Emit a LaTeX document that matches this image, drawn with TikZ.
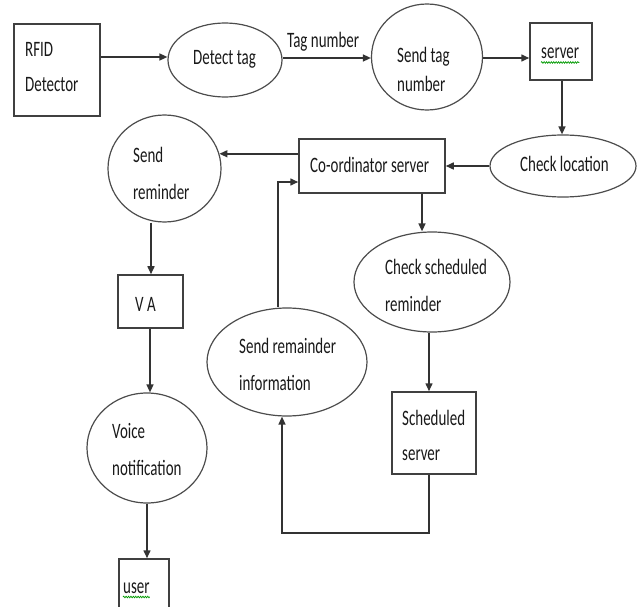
\documentclass[tikz,border=0pt]{standalone}
\usepackage{fontspec}
\setmainfont{Carlito}[FakeStretch=0.68]
\usetikzlibrary{shapes.geometric,arrows.meta,decorations.pathmorphing}
\begin{document}
\begin{tikzpicture}[x=1pt,y=-1pt,
  box/.style={rectangle, draw=black!75, line width=1.5pt, inner sep=0pt},
  oval/.style={ellipse, draw=black!70, line width=1.2pt, inner sep=0pt},
  arr/.style={draw=black!80, line width=1.5pt, -{Triangle[length=8pt,width=7pt]}},
  lbl/.style={anchor=base west, inner sep=0pt, text=black!90, font=\fontsize{22}{26}\selectfont},
  wavy/.style={draw=green!60!black, line width=0.7pt, decorate, decoration={snake, amplitude=0.8pt, segment length=2.4pt}}]
\useasboundingbox (0,0) rectangle (638,607);
\begin{scope}
\clip (0,0) rectangle (638,607);
% shapes
\node[box, minimum width=86pt, minimum height=92pt] (rfid) at (57,70) {};
\node[oval, minimum width=114pt, minimum height=74pt] (detect) at (225,60) {};
\node[oval, minimum width=111pt, minimum height=106pt] (sendtag) at (427,57) {};
\node[box, minimum width=62pt, minimum height=57pt] (server) at (561,51.5) {};
\node[oval, minimum width=146pt, minimum height=62pt] (checkloc) at (563,166) {};
\node[box, minimum width=146pt, minimum height=54pt] (coord) at (372,166) {};
\node[oval, minimum width=113pt, minimum height=107pt] (sendrem) at (164.5,168.5) {};
\node[box, minimum width=65pt, minimum height=53pt] (va) at (150.5,301.5) {};
\node[oval, minimum width=120pt, minimum height=110pt] (voice) at (147,448) {};
\node[box, minimum width=50pt, minimum height=62pt] (user) at (144,590) {};
\node[oval, minimum width=156pt, minimum height=100pt] (checksched) at (432,282) {};
\node[box, minimum width=84pt, minimum height=82pt] (schedsrv) at (434,433) {};
\node[oval, minimum width=160pt, minimum height=108pt] (sendinfo) at (287,362) {};
\end{scope}
% texts
\node[lbl] (t1) at (25,57) {RFID};
\node[lbl] (t2) at (25,92) {Detector};
\node[lbl] (t3) at (193,65) {Detect tag};
\node[lbl] (t4) at (287,48) {Tag number};
\node[lbl] (t5) at (397,63) {Send tag};
\node[lbl] (t6) at (397,92) {number};
\node[lbl] (t7) at (541,59) {server};
\node[lbl] (t8) at (520,172) {Check location};
\node[lbl] (t9) at (310,173) {Co-ordinator server};
\node[lbl] (t10) at (133,163) {Send};
\node[lbl] (t11) at (133,200) {reminder};
\node[lbl] (t12) at (135,311) {V A};
\node[lbl] (t13) at (385,275) {Check scheduled};
\node[lbl] (t14) at (385,312) {reminder};
\node[lbl] (t15) at (239,353) {Send remainder};
\node[lbl] (t16) at (239,390) {information};
\node[lbl] (t17) at (402,425) {Scheduled};
\node[lbl] (t18) at (402,460) {server};
\node[lbl] (t19) at (112,438) {Voice};
\node[lbl] (t20) at (112,475) {notification};
\node[lbl] (t21) at (123,593) {user};
% wavy underlines
\draw[wavy] ([yshift=-3.5pt]t7.base west) -- ([yshift=-3.5pt]t7.base east);
\draw[wavy] ([yshift=-4pt]t21.base west) -- ([yshift=-4pt]t21.base east);
% connectors
\coordinate (loop) at (282,533);
\coordinate (up) at (278,182);
\draw[arr] (rfid.east |- 0,57) -- (detect.west |- 0,57);
\draw[arr] (detect.east |- 0,58) -- (sendtag.west |- 0,58);
\draw[arr] (sendtag.east |- 0,58) -- (server.west |- 0,58);
\draw[arr] (server.south -| 562,0) -- (checkloc.north -| 562,0);
\draw[arr] (checkloc.west) -- (coord.east);
\draw[arr] (coord.west |- sendrem.15) -- (sendrem.15);
\draw[arr] (sendrem.south -| 151,0) -- (va.north -| 151,0);
\draw[arr] (va.south -| 150,0) -- (voice.north -| 150,0);
\draw[arr] (voice.south) -- (user.north -| voice.south);
\draw[arr] ([xshift=50pt]coord.south) -- ([xshift=50pt]coord.south |- checksched.north);
\draw[arr] ([xshift=-5pt]schedsrv.north |- checksched.south) -- ([xshift=-5pt]schedsrv.north);
\draw[arr] ([xshift=-5pt]schedsrv.south) |- (loop) -- (loop |- sendinfo.south);
\draw[arr] (up |- sendinfo.north) |- (coord.west |- up);
\end{tikzpicture}
\end{document}
